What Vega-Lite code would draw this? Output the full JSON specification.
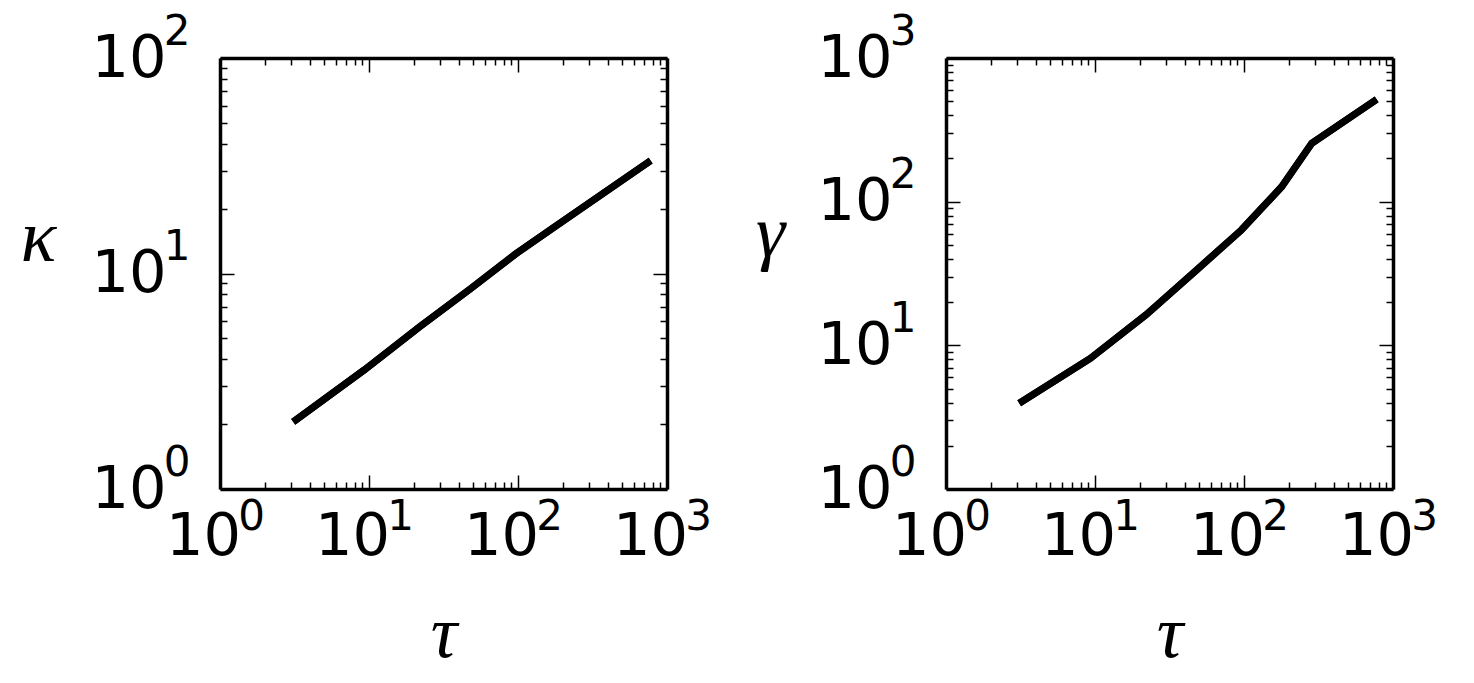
{
  "$schema": "https://vega.github.io/schema/vega-lite/v6.json",
  "padding": {"left": 20, "top": 10, "right": 5, "bottom": 5},
  "background": "white",
  "bounds": "flush",
  "spacing": 279,
  "config": {
    "view": {"stroke": null},
    "axis": {
      "grid": false,
      "domainColor": "black",
      "domainWidth": 3.5,
      "tickColor": "black",
      "tickWidth": 1.5,
      "labelColor": "black",
      "titleColor": "black",
      "labelFont": "DejaVu Sans",
      "titleFont": "Liberation Serif",
      "labelFontSize": 59,
      "titleFontSize": 74,
      "titleFontWeight": "normal",
      "titleFontStyle": "italic",
      "labelOverlap": false,
      "labelFlush": false,
      "labelBound": false,
      "tickSize": {"condition": {"test": "indexof([1,10,100,1000], datum.value) >= 0", "value": -14}, "value": -7},
      "labelExpr": "indexof([1,10,100,1000], datum.value) >= 0 ? '10' : ''"
    }
  },
  "datasets": {
    "kappa": [
      {"tau": 3.1, "kappa": 2.05},
      {"tau": 9.3, "kappa": 3.57},
      {"tau": 22, "kappa": 5.68},
      {"tau": 48, "kappa": 8.5},
      {"tau": 96, "kappa": 12.3},
      {"tau": 179, "kappa": 16.6},
      {"tau": 285, "kappa": 20.7},
      {"tau": 777, "kappa": 33.4}
    ],
    "gamma": [
      {"tau": 3.1, "gamma": 3.95},
      {"tau": 9.3, "gamma": 8.1},
      {"tau": 22, "gamma": 16.3},
      {"tau": 48, "gamma": 33.4},
      {"tau": 96, "gamma": 63.5},
      {"tau": 179, "gamma": 127},
      {"tau": 285, "gamma": 255},
      {"tau": 777, "gamma": 516}
    ]
  },
  "hconcat": [
    {
      "width": 447,
      "height": 431,
      "data": {"name": "kappa"},
      "resolve": {"axis": {"x": "independent", "y": "independent"}},
      "layer": [
        {
          "mark": {"type": "line", "color": "black", "strokeWidth": 7, "clip": true},
          "encoding": {
            "x": {"field": "tau", "type": "quantitative",
              "scale": {"type": "log", "domain": [1, 1000], "nice": false},
              "axis": {"orient": "bottom", "title": "τ", "titlePadding": 25, "labelPadding": 32, "labelOffset": -17,
                "values": [1,2,3,4,5,6,7,8,9,10,20,30,40,50,60,70,80,90,100,200,300,400,500,600,700,800,900,1000]}},
            "y": {"field": "kappa", "type": "quantitative",
              "scale": {"type": "log", "domain": [1, 100], "nice": false},
              "axis": {"orient": "left", "title": "κ", "titleAngle": 0, "titleX": -182, "titleY": 180, "titleAlign": "center", "titleBaseline": "middle", "labelPadding": 68,
                "values": [1,2,3,4,5,6,7,8,9,10,20,30,40,50,60,70,80,90,100]}}
          }
        },
        {
          "mark": {"type": "line", "color": "black", "strokeWidth": 7, "clip": true},
          "encoding": {
            "x": {"field": "tau", "type": "quantitative",
              "axis": {"orient": "top", "title": null, "labels": false,
                "values": [1,2,3,4,5,6,7,8,9,10,20,30,40,50,60,70,80,90,100,200,300,400,500,600,700,800,900,1000]}},
            "y": {"field": "kappa", "type": "quantitative",
              "axis": {"orient": "right", "title": null, "labels": false,
                "values": [1,2,3,4,5,6,7,8,9,10,20,30,40,50,60,70,80,90,100]}}
          }
        },
        {
          "mark": {"type": "line", "color": "black", "opacity": 0, "clip": true},
          "encoding": {
            "x": {"field": "tau", "type": "quantitative",
              "axis": {"orient": "bottom", "title": null, "ticks": false, "domain": false, "labelFontSize": 42, "labelPadding": 7, "labelOffset": 31,
                "labelExpr": "datum.value == 1 ? '0' : datum.value == 10 ? '1' : datum.value == 100 ? '2' : datum.value == 1000 ? '3' : ''",
                "values": [1,10,100,1000]}},
            "y": {"field": "kappa", "type": "quantitative",
              "axis": {"orient": "left", "title": null, "ticks": false, "domain": false, "labelFontSize": 42, "labelPadding": 30, "labelOffset": -27,
                "labelExpr": "datum.value == 1 ? '0' : datum.value == 10 ? '1' : datum.value == 100 ? '2' : ''",
                "values": [1,10,100]}}
          }
        }
      ]
    },
    {
      "width": 447,
      "height": 431,
      "data": {"name": "gamma"},
      "resolve": {"axis": {"x": "independent", "y": "independent"}},
      "layer": [
        {
          "mark": {"type": "line", "color": "black", "strokeWidth": 7, "clip": true},
          "encoding": {
            "x": {"field": "tau", "type": "quantitative",
              "scale": {"type": "log", "domain": [1, 1000], "nice": false},
              "axis": {"orient": "bottom", "title": "τ", "titlePadding": 25, "labelPadding": 32, "labelOffset": -17,
                "values": [1,2,3,4,5,6,7,8,9,10,20,30,40,50,60,70,80,90,100,200,300,400,500,600,700,800,900,1000]}},
            "y": {"field": "gamma", "type": "quantitative",
              "scale": {"type": "log", "domain": [1, 1000], "nice": false},
              "axis": {"orient": "left", "title": "γ", "titleAngle": 0, "titleX": -176, "titleY": 175, "titleAlign": "center", "titleBaseline": "middle", "labelPadding": 68,
                "values": [1,2,3,4,5,6,7,8,9,10,20,30,40,50,60,70,80,90,100,200,300,400,500,600,700,800,900,1000]}}
          }
        },
        {
          "mark": {"type": "line", "color": "black", "strokeWidth": 7, "clip": true},
          "encoding": {
            "x": {"field": "tau", "type": "quantitative",
              "axis": {"orient": "top", "title": null, "labels": false,
                "values": [1,2,3,4,5,6,7,8,9,10,20,30,40,50,60,70,80,90,100,200,300,400,500,600,700,800,900,1000]}},
            "y": {"field": "gamma", "type": "quantitative",
              "axis": {"orient": "right", "title": null, "labels": false,
                "values": [1,2,3,4,5,6,7,8,9,10,20,30,40,50,60,70,80,90,100,200,300,400,500,600,700,800,900,1000]}}
          }
        },
        {
          "mark": {"type": "line", "color": "black", "opacity": 0, "clip": true},
          "encoding": {
            "x": {"field": "tau", "type": "quantitative",
              "axis": {"orient": "bottom", "title": null, "ticks": false, "domain": false, "labelFontSize": 42, "labelPadding": 7, "labelOffset": 31,
                "labelExpr": "datum.value == 1 ? '0' : datum.value == 10 ? '1' : datum.value == 100 ? '2' : datum.value == 1000 ? '3' : ''",
                "values": [1,10,100,1000]}},
            "y": {"field": "gamma", "type": "quantitative",
              "axis": {"orient": "left", "title": null, "ticks": false, "domain": false, "labelFontSize": 42, "labelPadding": 30, "labelOffset": -27,
                "labelExpr": "datum.value == 1 ? '0' : datum.value == 10 ? '1' : datum.value == 100 ? '2' : datum.value == 1000 ? '3' : ''",
                "values": [1,10,100,1000]}}
          }
        }
      ]
    }
  ]
}
